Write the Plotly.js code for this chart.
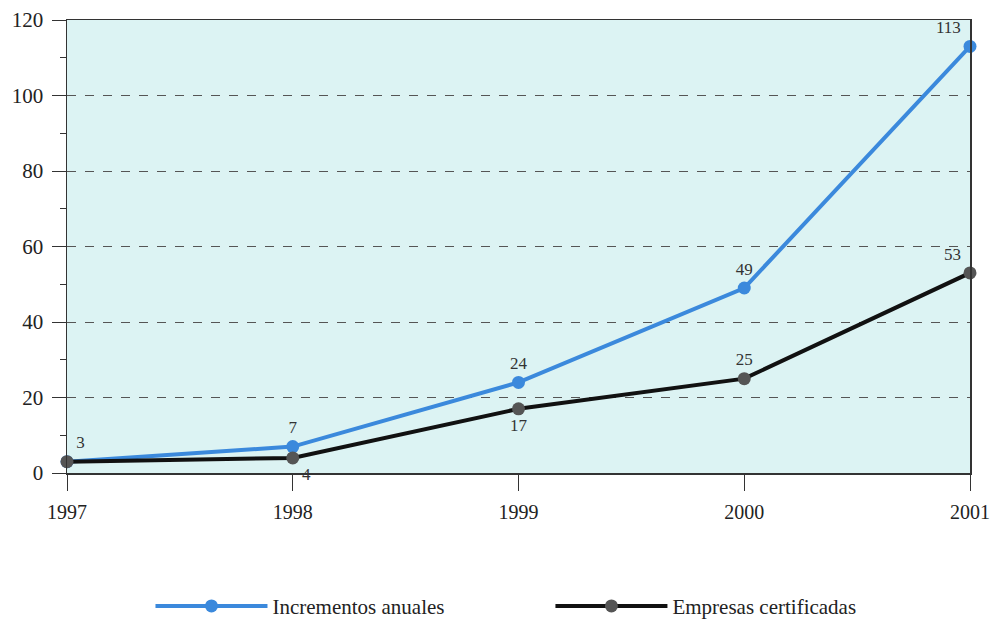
<!DOCTYPE html>
<html>
<head>
<meta charset="utf-8">
<script src="https://cdn.plot.ly/plotly-3.0.1.min.js"></script>
<style>html,body{margin:0;padding:0;background:#fff;}#chart{width:990px;height:625px;}</style>
</head>
<body>
<div id="chart"></div>
<script>
const years = [1997, 1998, 1999, 2000, 2001];
const incrementos = [3, 7, 24, 49, 113];
const empresas = [3, 4, 17, 25, 53];
const incLabels = ['3', '7', '24', '49', '113'];
const empLabels = ['', '4', '17', '25', '53'];
const yTicks = [0, 20, 40, 60, 80, 100, 120];

const SERIF = "'Times New Roman', 'Liberation Serif', Times, serif";

const traces = [
  {
    x: years, y: incrementos, name: 'Incrementos anuales',
    mode: 'lines+markers+text', type: 'scatter',
    line: {color: '#3b89dc', width: 4},
    marker: {color: '#3b89dc', size: 13},
    text: incLabels,
    textposition: ['top right', 'top center', 'top center', 'top center', 'top left'],
    textfont: {family: SERIF, size: 17, color: '#333'},
    cliponaxis: false,
    legend: 'legend'
  },
  {
    x: years, y: empresas, name: 'Empresas certificadas',
    mode: 'lines+markers+text', type: 'scatter',
    line: {color: '#111', width: 4},
    marker: {color: '#555', size: 13},
    text: empLabels,
    textposition: ['top center', 'bottom right', 'bottom center', 'top center', 'top left'],
    textfont: {family: SERIF, size: 17, color: '#333'},
    cliponaxis: false,
    legend: 'legend2'
  }
];

const legFont = {family: SERIF, size: 21, color: '#222'};
const layout = {
  width: 990, height: 625,
  margin: {l: 67, r: 20, t: 20, b: 152, autoexpand: false},
  paper_bgcolor: '#ffffff',
  plot_bgcolor: '#dcf3f3',
  font: {family: SERIF, size: 20, color: '#222'},
  showlegend: true,
  legend: {xref: 'container', yref: 'container', x: 0.152, xanchor: 'left', y: 0.03, yanchor: 'middle',
           font: legFont, itemwidth: 112, bgcolor: 'rgba(0,0,0,0)'},
  legend2: {xref: 'container', yref: 'container', x: 0.556, xanchor: 'left', y: 0.03, yanchor: 'middle',
           font: legFont, itemwidth: 112, bgcolor: 'rgba(0,0,0,0)'},
  xaxis: {
    range: [1997, 2001], tickvals: years, ticktext: years.map(String),
    showgrid: false, zeroline: false,
    showline: true, linecolor: '#333', linewidth: 1.5, mirror: true,
    ticks: 'outside', ticklen: 16, tickcolor: '#333', ticklabelstandoff: 4,
    tickfont: {family: SERIF, size: 20, color: '#222'}
  },
  yaxis: {
    range: [0, 120], tickvals: yTicks,
    showgrid: true, gridcolor: '#555', griddash: 'dash', gridwidth: 1,
    zeroline: false,
    showline: true, linecolor: '#333', linewidth: 1.5, mirror: true,
    ticks: 'outside', ticklen: 14, tickcolor: '#333', ticklabelstandoff: 4,
    minor: {dtick: 10, ticks: 'outside', ticklen: 6, tickcolor: '#333', showgrid: false},
    tickfont: {family: SERIF, size: 21, color: '#222'}
  }
};

Plotly.newPlot('chart', traces, layout, {displayModeBar: false, staticPlot: true});
</script>
</body>
</html>
